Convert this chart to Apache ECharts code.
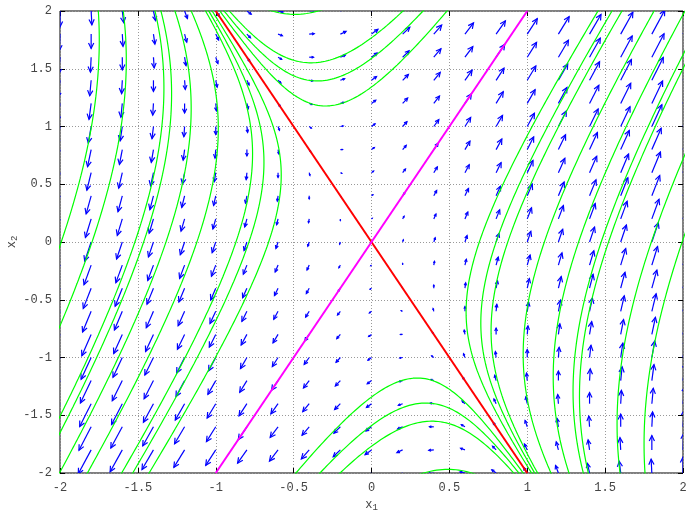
<!DOCTYPE html>
<html>
<head>
<meta charset="utf-8">
<script src="https://cdn.jsdelivr.net/npm/echarts@6/dist/echarts.min.js"></script>
<style>
  html, body { margin: 0; padding: 0; background: #fff; }
  #main { width: 686px; height: 511px; }
</style>
</head>
<body>
<div id="main"></div>
<script>
// linear system x' = A x
var sysA = [[1, 1], [4, 1]];

// arrow grid positions
var gridX1 = [-2, -1.8, -1.6, -1.4, -1.2, -1, -0.8, -0.6, -0.4, -0.2, 0, 0.2, 0.4, 0.6, 0.8, 1, 1.2, 1.4, 1.6, 1.8, 2];
var gridX2 = [-2, -1.8, -1.6, -1.4, -1.2, -1, -0.8, -0.6, -0.4, -0.2, 0, 0.2, 0.4, 0.6, 0.8, 1, 1.2, 1.4, 1.6, 1.8, 2];

// eigen lines
var redLine = [[-1, 2], [1, -2]];
var magentaLine = [[-1, -2], [1, 2]];

// trajectory start points, read where each green curve meets the border
var topStarts = [-1.754, -1.594, -1.39, -1.352, -1.262, -0.343, 0.202, 0.331, 0.485, 1.454, 1.544, 1.608, 1.814];
var bottomStarts = [-1.824, -1.604, -1.533, -1.428, -0.485, -0.331, -0.202, 0.643, 1.268, 1.36, 1.392, 1.596, 1.756];

var arrowScale = 0.023;

function field(p) {
  return [sysA[0][0] * p[0] + sysA[0][1] * p[1], sysA[1][0] * p[0] + sysA[1][1] * p[1]];
}

function step(p, h) {
  var k1 = field(p);
  var k2 = field([p[0] + h / 2 * k1[0], p[1] + h / 2 * k1[1]]);
  var k3 = field([p[0] + h / 2 * k2[0], p[1] + h / 2 * k2[1]]);
  var k4 = field([p[0] + h * k3[0], p[1] + h * k3[1]]);
  return [p[0] + h / 6 * (k1[0] + 2 * k2[0] + 2 * k3[0] + k4[0]),
          p[1] + h / 6 * (k1[1] + 2 * k2[1] + 2 * k3[1] + k4[1])];
}

function integrate(p0, h) {
  var pts = [];
  var p = p0;
  for (var i = 0; i < 20000; i++) {
    p = step(p, h);
    pts.push(p);
    if (Math.abs(p[0]) > 2.3 || Math.abs(p[1]) > 2.3) break;
  }
  return pts;
}

function trajectory(p0) {
  var back = integrate(p0, -0.002).reverse();
  var fwd = integrate(p0, 0.002);
  return back.concat([p0], fwd);
}

var arrowData = [];
gridX1.forEach(function (a) {
  gridX2.forEach(function (b) {
    var f = field([a, b]);
    arrowData.push([a, b, f[0], f[1]]);
  });
});

function renderArrow(params, api) {
  var x = api.value(0), y = api.value(1);
  var p0 = api.coord([x, y]);
  var p1 = api.coord([x + arrowScale * api.value(2), y + arrowScale * api.value(3)]);
  var dx = p1[0] - p0[0], dy = p1[1] - p0[1];
  var len = Math.sqrt(dx * dx + dy * dy);
  if (len < 0.3) return;
  var ux = dx / len, uy = dy / len;
  var hl = Math.min(6, len * 0.5);
  var ang = 26 * Math.PI / 180;
  var c = Math.cos(ang), s = Math.sin(ang);
  var h1 = [p1[0] - hl * (ux * c - uy * s), p1[1] - hl * (uy * c + ux * s)];
  var h2 = [p1[0] - hl * (ux * c + uy * s), p1[1] - hl * (uy * c - ux * s)];
  return {
    type: 'group',
    children: [
      { type: 'line', shape: { x1: p0[0], y1: p0[1], x2: p1[0], y2: p1[1] }, style: { stroke: '#0000ff', lineWidth: 1.2 } },
      { type: 'polyline', shape: { points: [h1, p1, h2] }, style: { stroke: '#0000ff', lineWidth: 1.2, fill: null } }
    ]
  };
}

var series = [{
  type: 'custom',
  renderItem: renderArrow,
  data: arrowData,
  clip: true,
  silent: true,
  z: 2
}];

topStarts.forEach(function (a) {
  series.push({ type: 'line', data: trajectory([a, 2]), showSymbol: false, clip: true, silent: true,
    lineStyle: { color: '#00ff00', width: 1.2 }, z: 3 });
});
bottomStarts.forEach(function (a) {
  series.push({ type: 'line', data: trajectory([a, -2]), showSymbol: false, clip: true, silent: true,
    lineStyle: { color: '#00ff00', width: 1.2 }, z: 3 });
});
series.push({ type: 'line', data: redLine, showSymbol: false, clip: true, silent: true,
  lineStyle: { color: '#ff0000', width: 2 }, z: 4 });
series.push({ type: 'line', data: magentaLine, showSymbol: false, clip: true, silent: true,
  lineStyle: { color: '#ff00ff', width: 2 }, z: 4 });

var labelFont = { fontFamily: 'Liberation Mono', fontSize: 12, color: '#444' };
var subRich = { s: { fontFamily: 'Liberation Mono', fontSize: 9, fill: '#444', color: '#444', verticalAlign: 'bottom', padding: [6, 0, 0, 0] } };
var nameStyle = { fontFamily: 'Liberation Mono', fontSize: 12, color: '#444', rich: subRich };
var tickStyle = { inside: true, length: 5, lineStyle: { color: '#000' } };

var chart = echarts.init(document.getElementById('main'));
chart.setOption({
  animation: false,
  backgroundColor: '#fff',
  grid: { left: 60, top: 11, right: 3, bottom: 38, containLabel: false, outerBoundsMode: 'none',
    show: true, borderColor: '#000', borderWidth: 1, backgroundColor: 'transparent' },
  graphic: [{
    type: 'text', x: 12, y: 242, rotation: Math.PI / 2,
    style: { text: 'x{s|2}', fontFamily: 'Liberation Mono', fontSize: 12, fill: '#444',
      align: 'center', verticalAlign: 'middle', rich: subRich }
  }],
  xAxis: [{
    type: 'value', min: -2, max: 2, interval: 0.5,
    name: 'x{s|1}', nameLocation: 'middle', nameGap: 24, nameTextStyle: nameStyle,
    axisLine: { show: false, onZero: false },
    axisTick: tickStyle,
    axisLabel: Object.assign({ margin: 9 }, labelFont),
    splitLine: { show: true, lineStyle: { color: '#999', type: [1, 2], width: 1 } }
  }, {
    type: 'value', min: -2, max: 2, interval: 0.5, position: 'top',
    axisLine: { show: false, onZero: false },
    axisTick: tickStyle,
    axisLabel: { show: false },
    splitLine: { show: false }
  }],
  yAxis: [{
    type: 'value', min: -2, max: 2, interval: 0.5,
    axisLine: { show: false, onZero: false },
    axisTick: tickStyle,
    axisLabel: Object.assign({ margin: 8 }, labelFont),
    splitLine: { show: true, lineStyle: { color: '#999', type: [1, 2], width: 1 } }
  }, {
    type: 'value', min: -2, max: 2, interval: 0.5, position: 'right',
    axisLine: { show: false, onZero: false },
    axisTick: tickStyle,
    axisLabel: { show: false },
    splitLine: { show: false }
  }],
  series: series
});
</script>
</body>
</html>
